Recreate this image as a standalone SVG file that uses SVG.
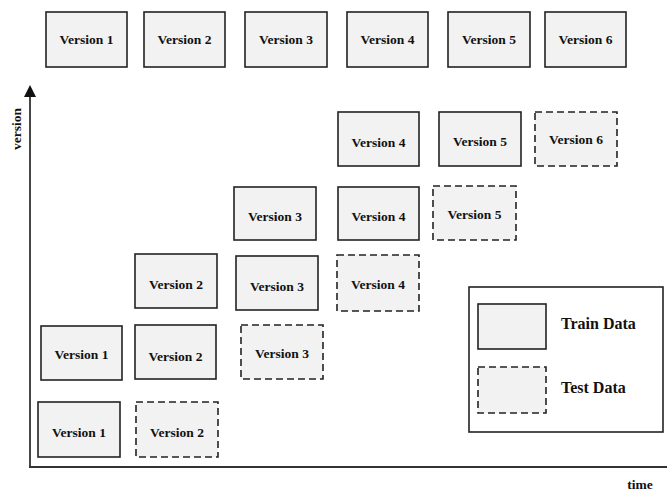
<svg xmlns="http://www.w3.org/2000/svg" width="668" height="490" viewBox="0 0 668 490">
<style>
.b{fill:#f2f2f2;stroke:#222;stroke-width:1.6}
.d{fill:#f2f2f2;stroke:#222;stroke-width:1.6;stroke-dasharray:7 4}
.t{font-family:"Liberation Serif","Times New Roman",serif;font-weight:bold;font-size:13.5px;fill:#111;text-anchor:middle;dominant-baseline:central}
.l{font-family:"Liberation Serif","Times New Roman",serif;font-weight:bold;font-size:16px;fill:#111;dominant-baseline:central}
.ax{stroke:#333;stroke-width:1.8;fill:none}
</style>
<g id="connectors">
<path class="ax" d="M30 467 L30 90"/>
<path d="M30 85 L36 97 L24 97 Z" fill="#111"/>
<path class="ax" d="M29 467 L667 467"/>
</g>
<text class="t" transform="translate(16 129) rotate(-90)" font-size="11.5px">version</text>
<text class="t" x="640" y="484">time</text>

<g id="top1"><rect class="b" x="46" y="12" width="81" height="55"/><text class="t" x="86.5" y="39.5">Version 1</text></g>
<g id="top2"><rect class="b" x="144" y="12" width="81" height="55"/><text class="t" x="184.5" y="39.5">Version 2</text></g>
<g id="top3"><rect class="b" x="245" y="12" width="82" height="55"/><text class="t" x="286" y="39.5">Version 3</text></g>
<g id="top4"><rect class="b" x="347" y="12" width="81" height="55"/><text class="t" x="387.5" y="39.5">Version 4</text></g>
<g id="top5"><rect class="b" x="448" y="12" width="82" height="55"/><text class="t" x="489" y="39.5">Version 5</text></g>
<g id="top6"><rect class="b" x="545" y="12" width="81" height="55"/><text class="t" x="585.5" y="39.5">Version 6</text></g>

<g id="r1a"><rect class="b" x="338" y="112" width="81" height="54"/><text class="t" x="378.5" y="142">Version 4</text></g>
<g id="r1b"><rect class="b" x="439" y="112" width="82" height="54"/><text class="t" x="480" y="141.5">Version 5</text></g>
<g id="r1c"><rect class="d" x="535" y="112" width="82" height="54"/><text class="t" x="576" y="139">Version 6</text></g>

<g id="r2a"><rect class="b" x="234" y="187" width="82" height="53"/><text class="t" x="275" y="216.5">Version 3</text></g>
<g id="r2b"><rect class="b" x="338" y="187" width="81" height="53"/><text class="t" x="378.5" y="216.5">Version 4</text></g>
<g id="r2c"><rect class="d" x="433" y="186" width="83" height="54"/><text class="t" x="474.5" y="214">Version 5</text></g>

<g id="r3a"><rect class="b" x="135" y="254" width="82" height="54"/><text class="t" x="176" y="284">Version 2</text></g>
<g id="r3b"><rect class="b" x="236" y="256" width="82" height="54"/><text class="t" x="277" y="286">Version 3</text></g>
<g id="r3c"><rect class="d" x="337" y="255" width="82" height="56"/><text class="t" x="378" y="284">Version 4</text></g>

<g id="r4a"><rect class="b" x="41" y="326" width="81" height="54"/><text class="t" x="81.5" y="354">Version 1</text></g>
<g id="r4b"><rect class="b" x="135" y="325" width="81" height="54"/><text class="t" x="175.5" y="356.5">Version 2</text></g>
<g id="r4c"><rect class="d" x="241" y="325" width="82" height="54"/><text class="t" x="282" y="353">Version 3</text></g>

<g id="r5a"><rect class="b" x="38" y="402" width="82" height="55"/><text class="t" x="79" y="432">Version 1</text></g>
<g id="r5b"><rect class="d" x="136" y="402" width="82" height="55"/><text class="t" x="177" y="432">Version 2</text></g>

<g id="legend">
<rect x="469" y="287" width="194" height="145" fill="#fff" stroke="#222" stroke-width="1.6"/>
<rect class="b" x="478" y="304" width="68" height="45"/>
<text class="l" x="561" y="323">Train Data</text>
<rect class="d" x="478" y="367" width="68" height="46"/>
<text class="l" x="561" y="387">Test Data</text>
</g>
</svg>
